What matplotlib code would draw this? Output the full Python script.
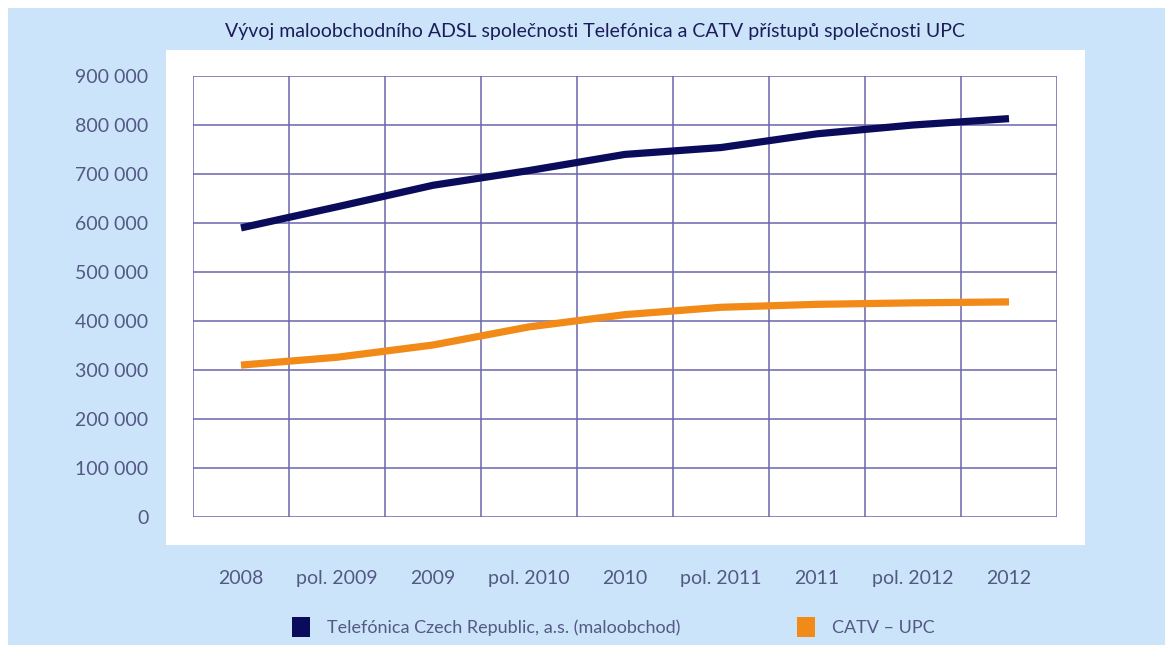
import matplotlib.pyplot as plt
from matplotlib.patches import Rectangle, Patch
from matplotlib.ticker import FuncFormatter

# data
periods = ['2008', 'pol. 2009', '2009', 'pol. 2010', '2010',
           'pol. 2011', '2011', 'pol. 2012', '2012']
telefonica = [590000, 633000, 677000, 707000, 740000, 754000, 782000, 800000, 813000]
catv_upc = [310000, 326000, 351000, 388000, 413000, 428000, 434000, 437000, 439000]
series_names = ['Telefónica Czech Republic, a.s. (maloobchod)', 'CATV – UPC']

navy = '#0b0b5c'
orange = '#f28a17'
bg_blue = '#cce4fa'
grid_col = '#6a66ad'
text_col = '#535884'

plt.rcParams['font.family'] = ['Lato', 'DejaVu Sans']

fig = plt.figure(figsize=(11.65, 6.45), dpi=100)
W, H = 1165, 645

# light blue panel and white plotting card behind everything
fig.patches.append(Rectangle((8 / W, 0), 1 - 8 / W, 1 - 8 / H, transform=fig.transFigure,
                             facecolor=bg_blue, edgecolor='none', zorder=-2))
fig.patches.append(Rectangle((166 / W, 1 - 545 / H), (1085 - 166) / W, (545 - 50) / H,
                             transform=fig.transFigure, facecolor='white',
                             edgecolor='none', zorder=-1))

ax = fig.add_axes([193 / W, 1 - 517 / H, (1057 - 193) / W, (517 - 76) / H])
ax.patch.set_visible(False)

x = [i + 0.5 for i in range(len(periods))]
ax.plot(x, telefonica, color=navy, lw=5.2, solid_capstyle='butt', zorder=3)
ax.plot(x, catv_upc, color=orange, lw=5.2, solid_capstyle='butt', zorder=3)

ax.set_xlim(0, len(periods))
ax.set_ylim(0, 900000)

# grid lines
for i in range(len(periods) + 1):
    ax.axvline(i, color=grid_col, lw=1.1, zorder=1)
for v in range(0, 900001, 100000):
    ax.axhline(v, color=grid_col, lw=1.1, zorder=1)

for s in ax.spines.values():
    s.set_visible(False)

ax.set_yticks(range(0, 900001, 100000))
ax.yaxis.set_major_formatter(FuncFormatter(lambda v, p: f'{int(v):,}'.replace(',', ' ')))
ax.set_xticks(x)
ax.set_xticklabels(periods)
ax.tick_params(axis='y', length=0, pad=32, labelsize=14, labelcolor=text_col)
ax.tick_params(axis='x', length=0, pad=38, labelsize=14, labelcolor=text_col)

fig.text(595 / W, 1 - 31 / H,
         'Vývoj maloobchodního ADSL společnosti Telefónica a CATV přístupů společnosti UPC',
         ha='center', va='center', fontsize=14, color='#1c1c5a')

handles = [Patch(facecolor=navy, edgecolor='none'), Patch(facecolor=orange, edgecolor='none')]
fig.legend(handles, series_names, loc='center left', bbox_to_anchor=(276 / W, 1 - 627 / H),
           ncol=2, frameon=False, fontsize=13, labelcolor=text_col,
           handlelength=1.0, handleheight=1.3, handletextpad=0.9, columnspacing=6.5)

fig.savefig('out.png', dpi=100, facecolor='white')
